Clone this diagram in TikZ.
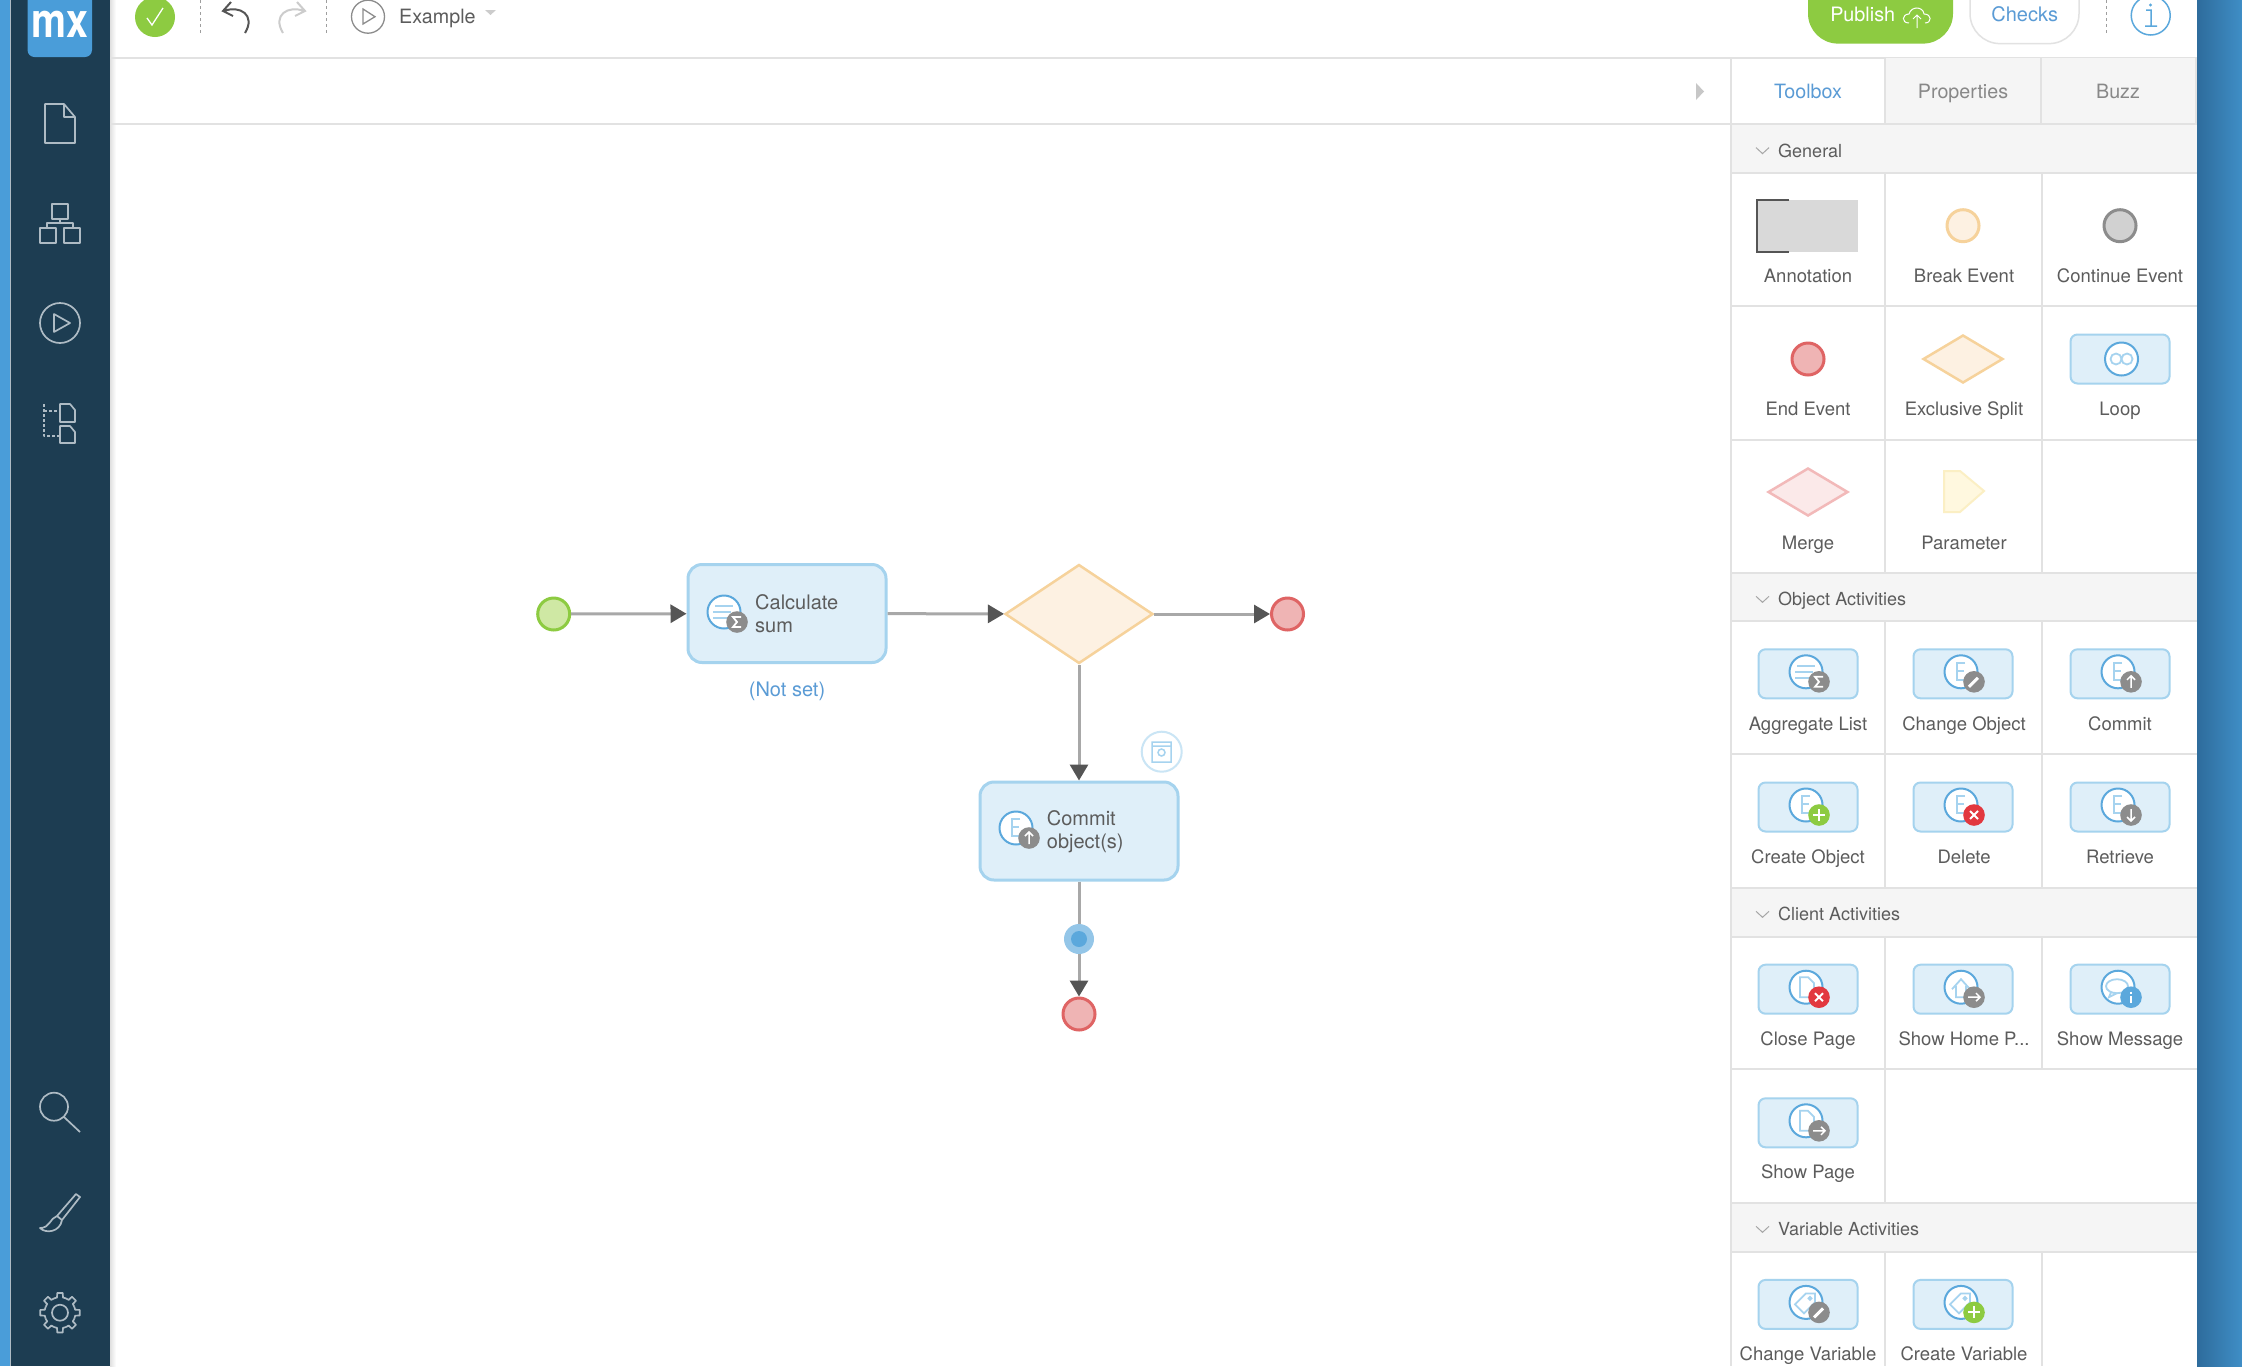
\documentclass[tikz,border=0pt]{standalone}
\usepackage{fontspec}
\setmainfont{TeX Gyre Heros}
\usetikzlibrary{arrows.meta,shapes.geometric}

\definecolor{navy}{HTML}{1D3D52}
\definecolor{stripblue}{HTML}{4A9DD9}
\definecolor{sideline}{HTML}{AEBBC4}
\definecolor{okgreen}{HTML}{8DCB41}
\definecolor{rulegray}{HTML}{E2E2E2}
\definecolor{headgray}{HTML}{F5F5F5}
\definecolor{textgray}{HTML}{5C5C5C}
\definecolor{tabgray}{HTML}{888888}
\definecolor{linkblue}{HTML}{5A9BD5}
\definecolor{actfill}{HTML}{DFEFF9}
\definecolor{actdraw}{HTML}{A5D3EE}
\definecolor{icoblue}{HTML}{5BA8DC}
\definecolor{glyphblue}{HTML}{A6D3EF}
\definecolor{badgegray}{HTML}{8C8C8C}
\definecolor{badgered}{HTML}{E2383F}
\definecolor{splitfill}{HTML}{FDF1E2}
\definecolor{splitdraw}{HTML}{F6D29B}
\definecolor{endfill}{HTML}{EFB4B4}
\definecolor{enddraw}{HTML}{DF6464}
\definecolor{startfill}{HTML}{CFE8A4}
\definecolor{flowgray}{HTML}{A8A8A8}
\definecolor{tipgray}{HTML}{555555}
\definecolor{mergefill}{HTML}{FBE9E9}
\definecolor{mergedraw}{HTML}{F2B9B9}
\definecolor{paramfill}{HTML}{FFF8DF}
\definecolor{paramdraw}{HTML}{FBEFC4}
\definecolor{rightdark}{HTML}{2E6C9C}
\definecolor{rightlight}{HTML}{3F8EC6}

\tikzset{
	actbox/.style={draw=actdraw,fill=actfill,rounded corners=14pt,line width=3pt,minimum width=198pt,minimum height=98pt,inner sep=0pt},
	toolbox/.style={draw=actdraw,fill=actfill,rounded corners=7pt,line width=2pt,minimum width=99pt,minimum height=49pt,inner sep=0pt},
	startevent/.style={circle,draw=okgreen,fill=startfill,line width=3pt,minimum size=32pt,inner sep=0pt},
	endevent/.style={circle,draw=enddraw,fill=endfill,line width=3pt,minimum size=32pt,inner sep=0pt},
	breakevent/.style={circle,draw=splitdraw,fill=splitfill,line width=3pt,minimum size=32pt,inner sep=0pt},
	contevent/.style={circle,draw=badgegray,fill=black!18,line width=3pt,minimum size=32pt,inner sep=0pt},
	splitnode/.style={diamond,draw=splitdraw,fill=splitfill,line width=2.5pt,minimum width=148pt,minimum height=99pt,inner sep=0pt},
	flowline/.style={draw=flowgray,line width=3pt},
	flow/.style={flowline,-{Triangle[length=16pt,width=18pt,color=tipgray]}},
	acttext/.style={anchor=west,align=left,text=textgray,inner sep=0pt,font=\fontsize{20}{23.2}\selectfont},
	toollabel/.style={text=textgray,inner sep=0pt,text height=13.3pt,text depth=0pt,font=\fontsize{18.5}{22}\selectfont},
	headlabel/.style={anchor=west,text=textgray,inner sep=0pt,text height=13pt,text depth=0pt,font=\fontsize{18}{22}\selectfont},
	tablabel/.style={text=tabgray,inner sep=0pt,text height=14.2pt,text depth=0pt,font=\fontsize{19.7}{24}\selectfont},
	sideicon/.style={draw=sideline,line width=1.7pt,line join=round},
	grid/.style={draw=rulegray,line width=2pt},
	glyphline/.style={draw=glyphblue,line width=1.8pt},
	badgeline/.style={draw=white,line width=1.8pt}
}

\newcommand{\glyphlist}{\draw[glyphline] (-11,-8) -- (7,-8) (-13,-2) -- (5,-2) (-13,4) -- (3,4);}
\newcommand{\glyphent}{\draw[glyphline] (2,-11) -- (-6,-11) -- (-6,6) -- (2,6) (-6,-3) -- (1,-3);}
\newcommand{\glyphpage}{\draw[glyphline] (-8,-12) -- (0,-12) -- (6,-6) -- (6,8) -- (-8,8) -- cycle;}
\newcommand{\glyphhome}{\draw[glyphline] (-11,0) -- (-2,-10) -- (7,0) (-7,-3) -- (-7,8) -- (3,8) -- (3,-3);}
\newcommand{\glyphchat}{\draw[glyphline] (-3,-3) ellipse (11 and 7) (-9,3) -- (-11,8) -- (-3,4);}
\newcommand{\glyphtag}{\draw[glyphline] (-13,0) -- (-2,-11) -- (7,-11) -- (7,-2) -- (-4,9) -- cycle (2,-6) circle (1.5);}
\newcommand{\badgesigma}{\draw[badgeline] (15,3) -- (7,3) -- (11,8) -- (7,13) -- (15,13);}
\newcommand{\badgepencil}{\draw[badgeline,line width=3pt] (6,13) -- (15,4);}
\newcommand{\badgeup}{\draw[badgeline,line width=1.5pt] (11,14) -- (11,2) (7,6) -- (11,2) -- (15,6);}
\newcommand{\badgedown}{\draw[badgeline,line width=1.5pt] (11,2) -- (11,14) (7,10) -- (11,14) -- (15,10);}
\newcommand{\badgeright}{\draw[badgeline,line width=1.5pt] (5,8) -- (17,8) (13,4) -- (17,8) -- (13,12);}
\newcommand{\badgeplus}{\draw[badgeline,line width=2pt] (5,8) -- (17,8) (11,2) -- (11,14);}
\newcommand{\badgecross}{\draw[badgeline,line width=2pt] (7,4) -- (15,12) (7,12) -- (15,4);}
\newcommand{\badgeinfo}{\draw[badgeline,line width=2pt] (11,7) -- (11,14) (11,2.5) -- (11,4.5);}

\newcommand{\acticon}[5]{
	\begin{scope}[shift={(#1,#2)}]
		\draw[draw=icoblue,fill=white,line width=2pt] (-2,-2) circle (16.5);
		\csname glyph#3\endcsname
		\fill[#4] (11,8) circle (10.8);
		\csname badge#5\endcsname
	\end{scope}
}

\begin{document}
\begin{tikzpicture}[x=1pt,y=-1pt]
	\path[use as bounding box,clip] (0,0) rectangle (2242,1366);
	\fill[white] (0,0) rectangle (2242,1366);

	\fill[stripblue] (0,0) rectangle (10,1366);
	\fill[navy] (10,0) rectangle (110,1366);
	\draw[sideline,line width=1pt] (10,0) -- (10,1366);
	\shade[left color=black!12,right color=white] (110,0) rectangle (116,1366);
	\shade[left color=rightdark,right color=rightlight] (2197,0) rectangle (2242,1366);

	\fill[stripblue,rounded corners=7pt] (27.5,-12) rectangle (92,57);
	\node[text=white,inner sep=0pt,xscale=.82,font=\fontsize{48}{48}\selectfont\bfseries] (logo) at (60,24.5) {mx};

	\draw[sideicon] (45,104) -- (64,104) -- (75,117) -- (75,143) -- (45,143) -- cycle (64,104) -- (64,117) -- (75,117);
	\draw[sideicon] (52,204) rectangle (68,219) (60,219) -- (60,223) (47,228) -- (47,223) -- (73,223) -- (73,228) (40,228) rectangle (56,243) (64,228) rectangle (80,243);
	\draw[sideicon] (60,323) circle (20) (54,314) -- (70,323) -- (54,332) -- cycle;
	\draw[sideicon,line width=1.5pt,densely dashed] (44,404) -- (44,436) -- (60,436) (44,411) -- (60,411);
	\draw[sideicon] (60,404) -- (70,404) -- (75,410) -- (75,422) -- (60,422) -- cycle (60,426) -- (70,426) -- (75,432) -- (75,443) -- (60,443) -- cycle;
	\draw[sideicon] (54,1106.7) circle (14) (64,1117) -- (80,1132);
	\draw[sideicon] (76,1194) -- (80,1197) -- (62,1220) -- (57,1216) -- cycle (57,1216) .. controls (50,1218) and (50,1228) .. (40,1228) .. controls (46,1234) and (60,1232) .. (62,1220);
	\begin{scope}[shift={(60,1312.7)}]
		\draw[sideicon] (0,0) circle (8);
		\foreach \a in {0,45,...,315}
			\draw[sideicon] ({\a-22.5}:15.5) -- ({\a-11}:15.5) -- ({\a-8}:20) -- ({\a+8}:20) -- ({\a+11}:15.5) -- ({\a+22.5}:15.5);
	\end{scope}

	\fill[okgreen] (155,17) circle (20);
	\draw[white,line width=1.3pt] (147,18) -- (152,25) -- (163,8);
	\draw[rulegray!70!black,line width=1pt,dashed] (200.5,0) -- (200.5,35) (326.5,0) -- (326.5,35);
	\draw[tipgray,line width=2pt] (224,11) .. controls (240,5) and (256,15) .. (245,33) (231,2) -- (223,11) -- (233,16);
	\draw[black!20,line width=2pt] (304,11) .. controls (288,5) and (272,15) .. (283,33) (297,2) -- (305,11) -- (295,16);
	\draw[black!45,line width=1.3pt] (368,16.7) circle (16.5) (363,9) -- (375,16.7) -- (363,24) -- cycle;
	\node[headlabel,text height=14.2pt,font=\fontsize{19.7}{24}\selectfont] (example) at (399,16.7) {Example};
	\fill[black!20] (485,10) -- (496,10) -- (490.5,15) -- cycle;

	\fill[okgreen,rounded corners=30pt] (1808,-30) rectangle (1953,43.6);
	\node[white,inner sep=0pt,text height=14.3pt,text depth=0pt,font=\fontsize{19.8}{24}\selectfont] (publish) at (1862.7,14.8) {Publish};
	\draw[white,line width=1pt] (1909,23) .. controls (1901,23) and (1902,14) .. (1909,14) .. controls (1911,6) and (1923,6) .. (1924,14) .. controls (1932,14) and (1932,23) .. (1925,23) (1917,28) -- (1917,15) (1913,19) -- (1917,15) -- (1921,19);
	\draw[rulegray,fill=white,rounded corners=30pt,line width=1.5pt] (1970,-30) rectangle (2079,43.6);
	\node[text=linkblue,inner sep=0pt,text height=14.3pt,text depth=0pt,font=\fontsize{20}{24}\selectfont] (checks) at (2024.7,14.8) {Checks};
	\draw[rulegray!70!black,line width=1pt,dashed] (2106,0) -- (2106,35);
	\draw[icoblue,line width=1.5pt] (2150.7,15.5) circle (19.5) (2146,10) -- (2151,10) -- (2151,26) (2145,26) -- (2157,26);
	\fill[icoblue] (2150.5,5) circle (1.6);

	\draw[grid] (110,57.5) -- (2197,57.5) (110,124) -- (1731,124);
	\fill[black!22] (1696,83) -- (1704,91.5) -- (1696,100) -- cycle;

	\fill[headgray] (1885,57.5) rectangle (2197,124);
	\foreach \ya/\yb in {124/172.8,573/621,887.7/936.7,1203.3/1252}
		\fill[headgray] (1731,\ya) rectangle (2197,\yb);
	\foreach \yy in {124,172.8,306.3,439.5,573,621,754.3,887.7,936.7,1069.3,1203.3,1252}
		\draw[grid] (1731,\yy) -- (2197,\yy);
	\draw[grid] (1731,57.5) -- (1731,1366);
	\draw[grid] (1885,57.5) -- (1885,124) (2041,57.5) -- (2041,124) (2196,57.5) -- (2196,124);
	\foreach \ya/\yb in {172.8/573,621/887.7,936.7/1069.3,1252/1366}
		\draw[grid] (1885,\ya) -- (1885,\yb) (2042,\ya) -- (2042,\yb);
	\draw[grid] (1885,1069.3) -- (1885,1203.3);

	\node[tablabel,text=linkblue] (tabtool) at (1808,91.4) {Toolbox};
	\node[tablabel] (tabprops) at (1963,91.4) {Properties};
	\node[tablabel] (tabbuzz) at (2118,91.4) {Buzz};

	\foreach \yy/\nm/\lab in {150.6/headgen/General,599.3/headobj/Object Activities,914.3/headcli/Client Activities,1229.3/headvar/Variable Activities}{
		\draw[black!35,line width=1pt] (1756,\yy-3) -- (1762.5,\yy+3) -- (1769,\yy-3);
		\node[headlabel] (\nm) at (1778,\yy) {\lab};
	}

	\foreach \lx/\ly/\nm/\lab in {
		1808/275.6/lannot/Annotation,1964/275.6/lbreak/Break Event,2120/275.6/lcont/Continue Event,
		1808/409/lend/End Event,1964/409/lsplit/Exclusive Split,2120/409/lloop/Loop,
		1808/542.7/lmerge/Merge,1964/542.7/lparam/Parameter,
		1808/723.5/laggr/Aggregate List,1964/723.5/lchange/Change Object,2120/723.5/lcommit/Commit,
		1808/857/lcreate/Create Object,1964/857/ldelete/Delete,2120/857/lretr/Retrieve,
		1808/1039/lclose/Close Page,1964/1039/lhome/{Show Home P...},2120/1039/lmsg/Show Message,
		1808/1172.2/lshow/Show Page,
		1808/1354/lchvar/Change Variable,1964/1354/lcrvar/Create Variable}
		\node[toollabel] (\nm) at (\lx,\ly) {\lab};

	\fill[black!15] (1757,199.8) rectangle (1858,251.6);
	\draw[tipgray,line width=2pt] (1789,199.5) -- (1757,199.5) -- (1757,251.5) -- (1789,251.5);
	\node[breakevent] (tbreak) at (1963,225.7) {};
	\node[contevent] (tcont) at (2120,225.7) {};
	\node[endevent] (tend) at (1808,359) {};
	\node[splitnode,minimum width=80pt,minimum height=48pt] (tsplit) at (1963,359) {};
	\node[toolbox] (tloop) at (2120,359) {};
	\draw[draw=icoblue,fill=white,line width=2pt] (2121.5,359) circle (16.5);
	\draw[glyphline] (2116,359) circle (5.5) (2127,359) circle (5.5);
	\node[splitnode,draw=mergedraw,fill=mergefill,minimum width=80pt,minimum height=48pt] (tmerge) at (1808,492) {};
	\draw[draw=paramdraw,fill=paramfill,line width=2pt] (1944,471) -- (1960,471) -- (1984,491) -- (1960,512) -- (1944,512) -- cycle;

	\foreach \bx/\by/\nm/\gl/\bc/\bg in {
		1808/673.8/baggr/list/badgegray/sigma,1963/673.8/bchange/ent/badgegray/pencil,2120/673.8/bcommit/ent/badgegray/up,
		1808/807/bcreate/ent/okgreen/plus,1963/807/bdelete/ent/badgered/cross,2120/807/bretr/ent/badgegray/down,
		1808/989.2/bclose/page/badgered/cross,1963/989.2/bhome/home/badgegray/right,2120/989.2/bmsg/chat/icoblue/info,
		1808/1122.8/bshow/page/badgegray/right,
		1808/1304.4/bchvar/tag/badgegray/pencil,1963/1304.4/bcrvar/tag/okgreen/plus}{
		\node[toolbox] (\nm) at (\bx,\by) {};
		\acticon{\bx}{\by}{\gl}{\bc}{\bg}
	}

	\node[startevent] (start) at (553.7,614) {};
	\node[actbox] (calc) at (787,613.5) {};
	\node[splitnode] (split) at (1079,614) {};
	\node[endevent] (endright) at (1287.5,614) {};
	\node[actbox] (commit) at (1079,831) {};
	\node[circle,fill=icoblue!65,minimum size=30pt,inner sep=0pt] (dot) at (1079,939) {};
	\node[endevent] (endbottom) at (1079,1014) {};

	\draw[flow] (start) -- (calc);
	\draw[flow] (calc) -- (split);
	\draw[flow] (split) -- (endright);
	\draw[flow] (split) -- (commit);
	\draw[flowline] (commit) -- (dot);
	\draw[flow] (dot) -- (endbottom);
	\fill[icoblue] (dot) circle (8);

	\acticon{726}{614}{list}{badgegray}{sigma}
	\node[acttext] (calctext) at (755,613.5) {Calculate\\sum};
	\node[text=linkblue,inner sep=0pt,text height=15pt,text depth=4pt,font=\fontsize{20}{24}\selectfont] (notset) at (787,690.7) {(Not set)};
	\acticon{1018}{830}{ent}{badgegray}{up}
	\node[acttext] (committext) at (1046.7,831.5) {Commit\\object(s)};

	\draw[draw=glyphblue!60,fill=white,line width=2pt] (1161.7,751.7) circle (20);
	\draw[glyphline,line width=1.5pt] (1152,742) rectangle (1171,762) (1152,746) -- (1171,746) (1161.5,752.5) circle (3.5);
\end{tikzpicture}
\end{document}
